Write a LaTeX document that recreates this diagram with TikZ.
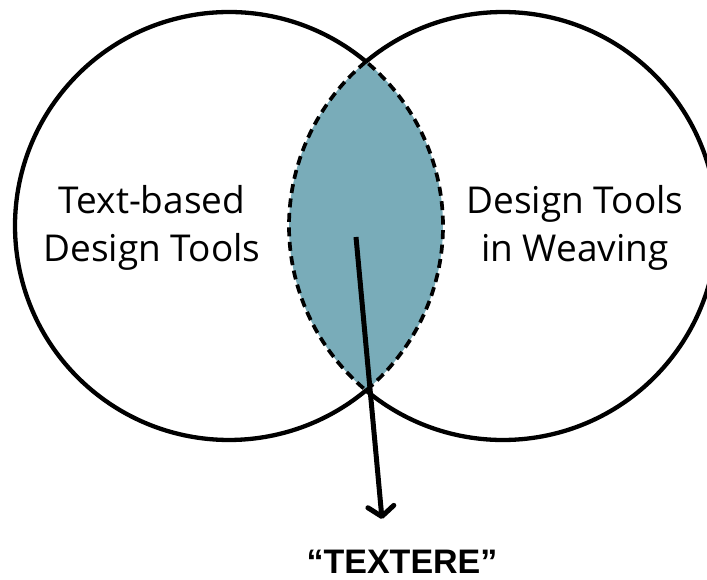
\documentclass[tikz,border=0pt]{standalone}
\usepackage{fontspec}
\setmainfont{Open Sans}
\newfontfamily\labelbold{Liberation Sans}
\usetikzlibrary{arrows.meta}
\definecolor{lensfill}{HTML}{79ACB9}
\tikzset{
  ring/.style={line width=4.3pt},
  lensedge/.style={line width=3.7pt, dash pattern=on 9pt off 5.5pt},
  setlabel/.style={align=center, font=\fontsize{37}{48}\selectfont, inner sep=0pt},
  resultlabel/.style={font=\labelbold\bfseries\fontsize{34}{40}\selectfont, inner sep=0pt, anchor=base},
  pointer/.style={line width=5pt, -{Straight Barb[length=10pt,width=26pt,round]}}
}
\begin{document}
\begin{tikzpicture}[x=1pt,y=1pt]
  \useasboundingbox (0,0) rectangle (707,579);
  % circle centres and radius
  \coordinate (cl) at (229,353);
  \coordinate (cr) at (503,353);
  \def\rr{214}
  % shaded intersection
  \begin{scope}
    \clip (cl) circle (\rr);
    \fill[lensfill] (cr) circle (\rr);
  \end{scope}
  % outer solid arcs
  \draw[ring] (cl) ++(50.1:\rr) arc (50.1:309.9:\rr);
  \draw[ring] (cr) ++(230.1:\rr) arc (230.1:489.9:\rr);
  % dashed border of the intersection
  \draw[lensedge] (cl) ++(-50.1:\rr) arc (-50.1:50.1:\rr);
  \draw[lensedge] (cr) ++(129.9:\rr) arc (129.9:230.1:\rr);
  % labels
  \node[setlabel] (textbased) at (152,351) {Text-based\\Design Tools};
  \node[setlabel] (weaving) at (575,351) {Design Tools\\in Weaving};
  \node[resultlabel] (textere) at (402,6) {“TEXTERE”};
  % arrow from the overlap to the result
  \coordinate (from) at (356,342);
  \coordinate (to) at (382,60);
  \draw[pointer] (from) -- (to);
\end{tikzpicture}
\end{document}
